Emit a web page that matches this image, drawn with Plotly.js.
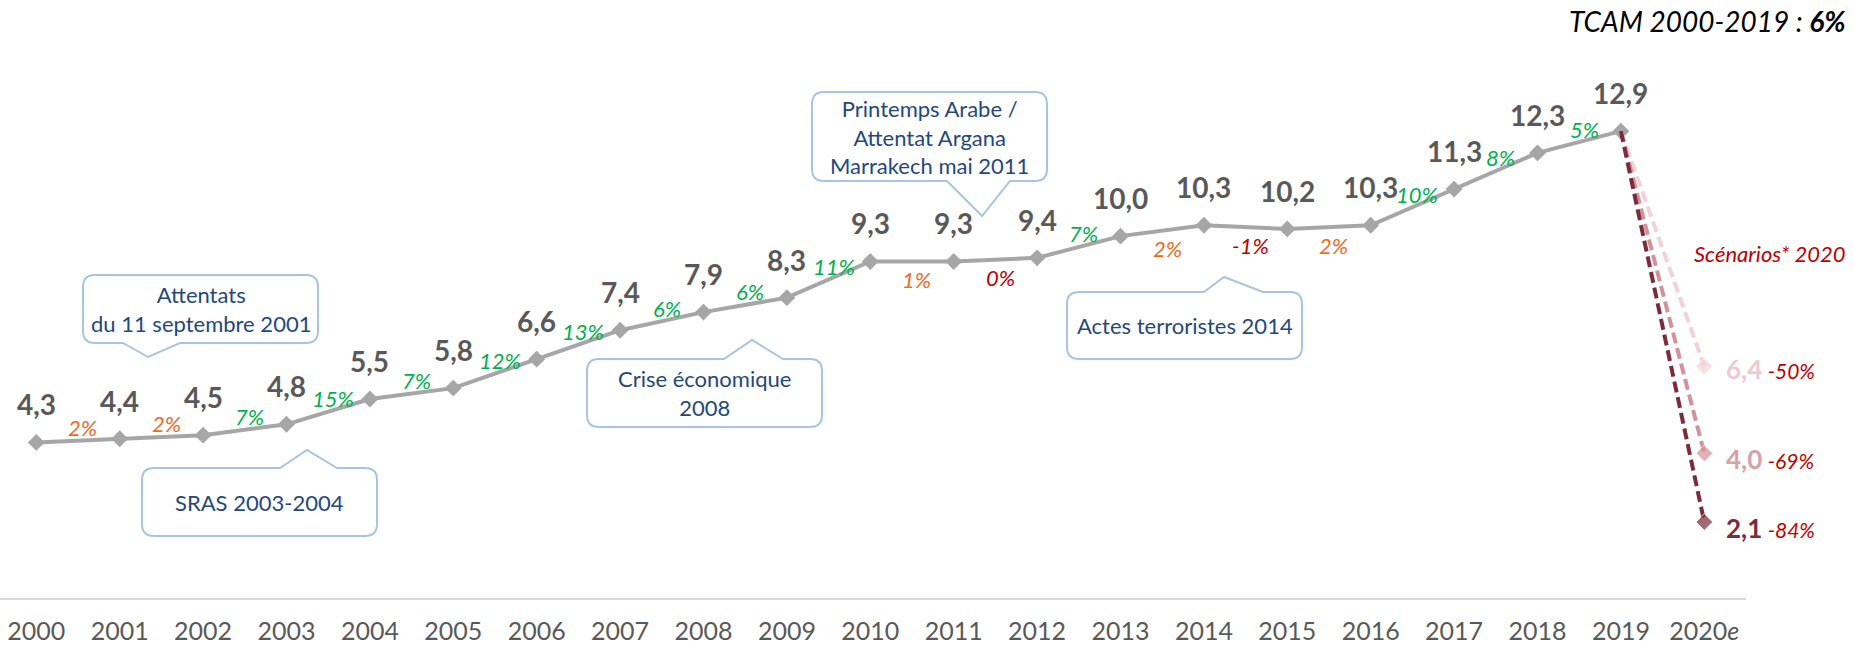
<!DOCTYPE html>
<html><head><meta charset="utf-8">
<script src="https://cdn.plot.ly/plotly-3.0.1.min.js"></script>
<style>html,body{margin:0;padding:0;background:#fff;} #chart{width:1854px;height:649px;}</style>
</head><body><div id="chart"></div>
<script>
// ---------------- DATA ----------------
const years = [2000,2001,2002,2003,2004,2005,2006,2007,2008,2009,2010,2011,2012,2013,2014,2015,2016,2017,2018,2019];
const arrivals = [4.3,4.4,4.5,4.8,5.5,5.8,6.6,7.4,7.9,8.3,9.3,9.3,9.4,10.0,10.3,10.2,10.3,11.3,12.3,12.9];
const growthPct = [2,2,7,15,7,12,13,6,6,11,1,0,7,2,-1,2,10,8,5];
const tickYears = [2000,2001,2002,2003,2004,2005,2006,2007,2008,2009,2010,2011,2012,2013,2014,2015,2016,2017,2018,2019,2020];
const tickLabels = ['2000','2001','2002','2003','2004','2005','2006','2007','2008','2009','2010','2011','2012','2013','2014','2015','2016','2017','2018','2019','2020<i>e</i>'];
const scenarioYear = 2020;
const scenarioValues = [6.4, 4.0, 2.1];
const scenarioPct = [-50, -69, -84];
const calloutTexts = [
  'Attentats<br>du 11 septembre 2001',
  'SRAS 2003-2004',
  'Crise économique<br>2008',
  'Printemps Arabe /<br>Attentat Argana<br>Marrakech mai 2011',
  'Actes terroristes 2014'
];
const tcamText = 'TCAM 2000-2019 : <b>6%</b>';
const scenarioTitle = 'Scénarios* 2020';

// ---------------- LAYOUT / STYLE ----------------
const W = 1854, H = 649;
const M = {l:0, r:108, t:19, b:51};
const plotW = W - M.l - M.r, plotH = H - M.t - M.b;
const xRange = [1999.565, 2020.5], yRange = [0, 16];
const px2x = px => xRange[0] + (px - M.l) / plotW * (xRange[1] - xRange[0]);
const py2y = py => yRange[1] - (py - M.t) / plotH * (yRange[1] - yRange[0]);
const px2paperX = px => (px - M.l) / plotW;
const py2paperY = py => (H - M.b - py) / plotH;

const FONT = 'Lato, "Open Sans", sans-serif';
const GREY = '#A6A6A6';
const LABEL = '#595959';
const BLUE_TXT = '#1F497D';
const BOX_LINE = '#A9C5DE';
const scenarioColors = ['#F0D3D8', '#D4919B', '#7B2B3C'];
const scenarioLabelColors = ['#EBCBD1', '#D9A0A8', '#7B2B3C'];
const pctColor = p => p <= 0 ? '#C00000' : (p <= 2 ? '#F36A1E' : '#00B050');
const belowIdx = new Set([10, 11, 13, 14, 15]);
const fmt = v => v.toFixed(1).replace('.', ',');

// callout geometry (pixels): box, pointer side, pointer base and tip
const calloutGeom = [
  {x0:83,  y0:275, x1:318,  y1:343, side:'bottom', p0:123,  tip:[148,357], p1:180},
  {x0:142, y0:468, x1:377,  y1:536, side:'top',    p0:280,  tip:[307,450], p1:337},
  {x0:587, y0:359, x1:822,  y1:427, side:'top',    p0:724,  tip:[752,340], p1:783},
  {x0:812, y0:92,  x1:1047, y1:181, side:'bottom', p0:947,  tip:[982,216], p1:1010},
  {x0:1067,y0:292, x1:1302, y1:359, side:'top',    p0:1204, tip:[1224,277], p1:1263}
];

function P(x, y) { return px2x(x) + ',' + py2y(y); }
function calloutPath(g) {
  const r = 12;
  let d = 'M' + P(g.x0 + r, g.y0);
  if (g.side === 'top') d += ' L' + P(g.p0, g.y0) + ' L' + P(g.tip[0], g.tip[1]) + ' L' + P(g.p1, g.y0);
  d += ' L' + P(g.x1 - r, g.y0) + ' Q' + P(g.x1, g.y0) + ' ' + P(g.x1, g.y0 + r);
  d += ' L' + P(g.x1, g.y1 - r) + ' Q' + P(g.x1, g.y1) + ' ' + P(g.x1 - r, g.y1);
  if (g.side === 'bottom') d += ' L' + P(g.p1, g.y1) + ' L' + P(g.tip[0], g.tip[1]) + ' L' + P(g.p0, g.y1);
  d += ' L' + P(g.x0 + r, g.y1) + ' Q' + P(g.x0, g.y1) + ' ' + P(g.x0, g.y1 - r);
  d += ' L' + P(g.x0, g.y0 + r) + ' Q' + P(g.x0, g.y0) + ' ' + P(g.x0 + r, g.y0) + ' Z';
  return d;
}

// ---------------- TRACES ----------------
const traces = [];
traces.push({
  type:'scatter', mode:'lines+markers', x: years, y: arrivals,
  line:{color:GREY, width:4},
  marker:{symbol:'diamond', size:13, color:GREY},
  hoverinfo:'skip', showlegend:false, cliponaxis:false
});
scenarioValues.forEach((v, k) => {
  traces.push({
    type:'scatter', mode:'lines+markers',
    x:[years[years.length-1], scenarioYear], y:[arrivals[arrivals.length-1], v],
    line:{color:scenarioColors[k], width:4, dash:'11px,5px'},
    marker:{symbol:'diamond', size:[0,13], color:scenarioColors[k]},
    hoverinfo:'skip', showlegend:false, cliponaxis:false
  });
});

// ---------------- ANNOTATIONS ----------------
const ann = [];
years.forEach((yr, i) => {
  ann.push({x:yr, y:arrivals[i], xref:'x', yref:'y', yshift:38, showarrow:false,
    text:fmt(arrivals[i]), font:{family:FONT, size:28, color:LABEL, weight:'bold'},
    xanchor:'center', yanchor:'middle'});
});
growthPct.forEach((p, i) => {
  const below = belowIdx.has(i);
  ann.push({x:(years[i] + years[i+1]) / 2, y:(arrivals[i] + arrivals[i+1]) / 2, xref:'x', yref:'y',
    xshift:5, yshift: below ? -18 : 13, showarrow:false,
    text:p + '%', font:{family:FONT, size:22, color:pctColor(p), style:'italic'},
    xanchor:'center', yanchor:'middle'});
});
scenarioValues.forEach((v, k) => {
  ann.push({x:scenarioYear, y:v, xref:'x', yref:'y', xshift:20, yshift: k === 0 ? -3 : -6, showarrow:false,
    xanchor:'left', yanchor:'middle',
    text:'<b><span style="color:' + scenarioLabelColors[k] + ';font-size:26px">' + fmt(v) + '</span></b> ' +
         '<i><span style="color:#C00000;font-size:21px">' + scenarioPct[k] + '%</span></i>',
    font:{family:FONT, size:21, color:'#C00000'}});
});
calloutGeom.forEach((g, k) => {
  ann.push({x:px2x((g.x0 + g.x1) / 2), y:py2y((g.y0 + g.y1) / 2), xref:'x', yref:'y', showarrow:false,
    text:calloutTexts[k], font:{family:FONT, size:22, color:BLUE_TXT}, align:'center',
    xanchor:'center', yanchor:'middle'});
});
ann.push({x:px2paperX(1848), y:py2paperY(21), xref:'paper', yref:'paper', showarrow:false,
  xanchor:'right', yanchor:'middle', text:tcamText,
  font:{family:FONT, size:28, color:'#000000', style:'italic'}});
ann.push({x:px2paperX(1848), y:py2paperY(254), xref:'paper', yref:'paper', showarrow:false,
  xanchor:'right', yanchor:'middle', text:scenarioTitle,
  font:{family:FONT, size:22, color:'#C00000', style:'italic'}});

const shapes = calloutGeom.map(g => ({
  type:'path', xref:'x', yref:'y', path:calloutPath(g),
  line:{color:BOX_LINE, width:2}, fillcolor:'#FFFFFF', layer:'above'
}));

const layout = {
  width:W, height:H, margin:M, paper_bgcolor:'#FFFFFF', plot_bgcolor:'#FFFFFF',
  showlegend:false,
  xaxis:{range:xRange, tickvals:tickYears, ticktext:tickLabels, showgrid:false, zeroline:false,
    showline:true, linecolor:'#D9D9D9', linewidth:2, ticks:'', ticklabelstandoff:10,
    tickfont:{family:FONT, size:25, color:LABEL}, fixedrange:true},
  yaxis:{range:yRange, visible:false, fixedrange:true},
  annotations:ann, shapes:shapes
};

Plotly.newPlot('chart', traces, layout, {staticPlot:true, displayModeBar:false});
</script>
</body></html>
